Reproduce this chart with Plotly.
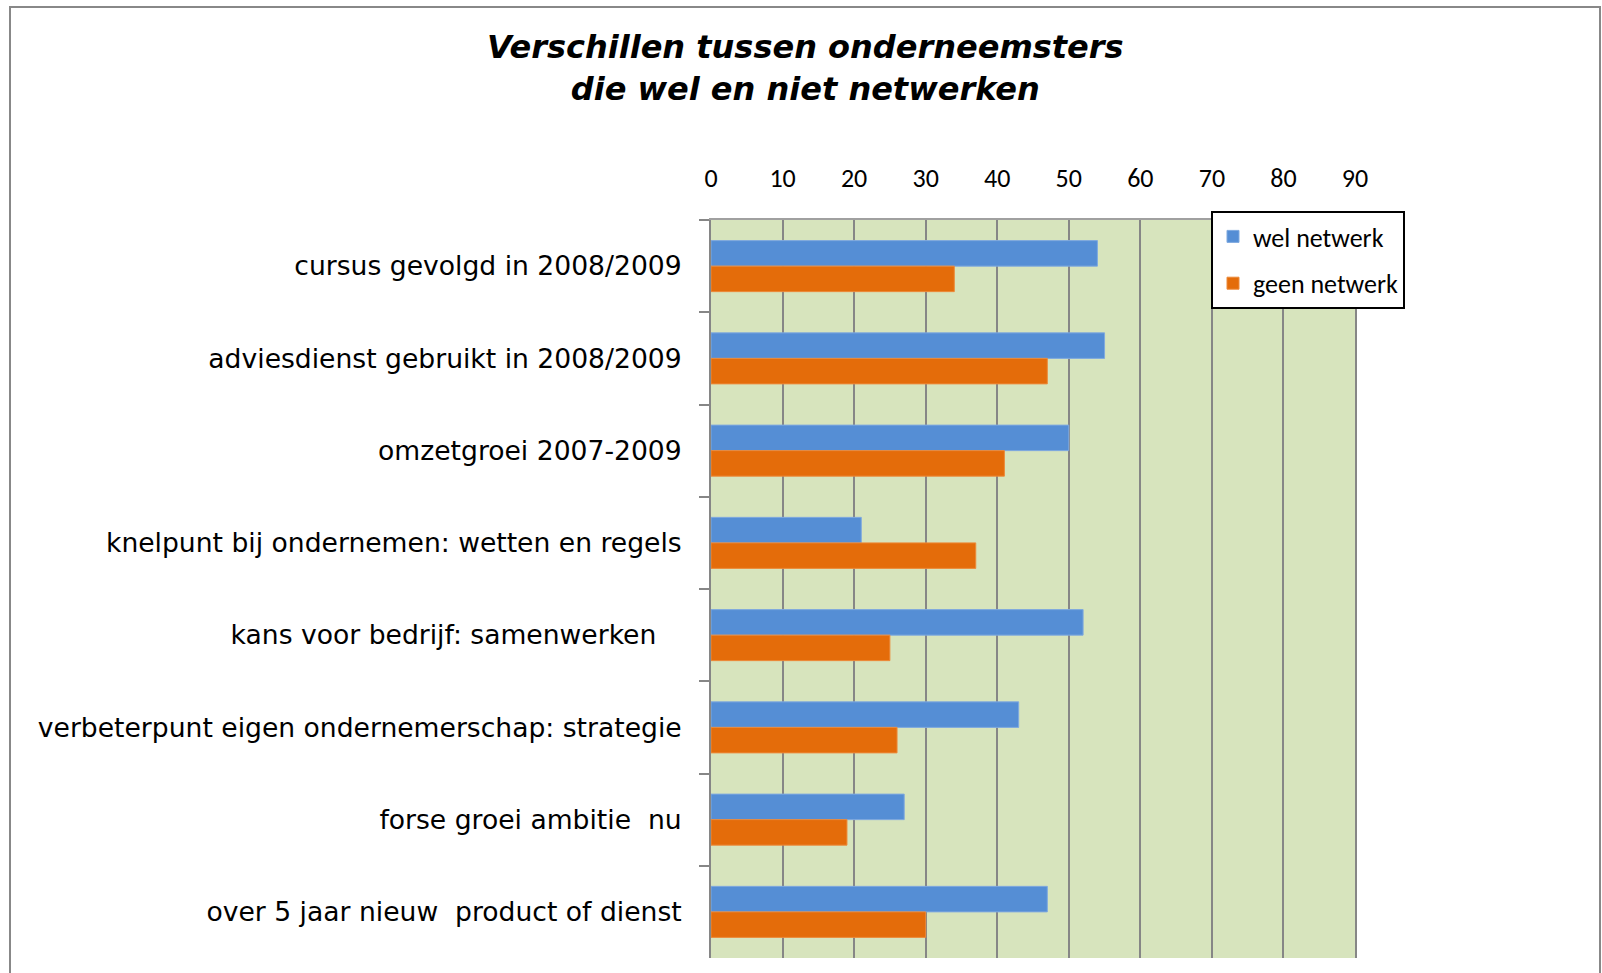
import plotly.graph_objects as go

categories = [
    "cursus gevolgd in 2008/2009",
    "adviesdienst gebruikt in 2008/2009",
    "omzetgroei 2007-2009",
    "knelpunt bij ondernemen: wetten en regels",
    "kans voor bedrijf: samenwerken\u00a0\u00a0\u00a0",
    "verbeterpunt eigen ondernemerschap: strategie",
    "forse groei ambitie\u00a0 nu",
    "over 5 jaar nieuw\u00a0 product of dienst",
]
wel_netwerk = [54, 55, 50, 21, 52, 43, 27, 47]
geen_netwerk = [34, 47, 41, 37, 25, 26, 19, 30]
x_ticks = [0, 10, 20, 30, 40, 50, 60, 70, 80, 90]

W, H = 1602, 973
# pixel positions of the plot area
L, R, T, B = 711, 1355, 220, 958

def px(x):
    return (x - L) / (R - L)

def py(y):
    return (B - y) / (B - T)

calibri = "Carlito, 'Liberation Sans Narrow', Lato, sans-serif"

fig = go.Figure()
fig.add_trace(go.Bar(
    y=categories, x=wel_netwerk, orientation="h", name="wel netwerk",
    marker=dict(color="#558ED5", line=dict(color="#7FA9DF", width=1)),
    legendgroup="a",
))
fig.add_trace(go.Bar(
    y=categories, x=geen_netwerk, orientation="h", name="geen netwerk",
    marker=dict(color="#E46C0A", line=dict(color="#EC8A3A", width=1)),
    legendgroup="b",
))

fig.update_layout(
    width=W, height=H,
    margin=dict(l=L, r=W - R, t=T, b=H - B, pad=0),
    paper_bgcolor="white",
    plot_bgcolor="#D7E4BD",
    barmode="group",
    bargap=0.447,
    bargroupgap=0,
    showlegend=True,
    legend=dict(
        x=px(1211), y=py(211), xanchor="left", yanchor="top",
        bgcolor="white", bordercolor="black", borderwidth=2,
        font=dict(family=calibri, size=26, color="black"),
        traceorder="grouped", tracegroupgap=10,
        itemwidth=30,
    ),
    xaxis=dict(
        side="top", range=[0, 90], tickvals=x_ticks,
        showgrid=True, gridcolor="#868686", gridwidth=2,
        showline=True, linecolor="#A0A0A0", linewidth=2,
        zeroline=False, ticks="", ticklabelstandoff=21,
        tickfont=dict(family=calibri, size=26, color="black"),
        fixedrange=True,
    ),
    yaxis=dict(
        autorange="reversed", type="category",
        showline=True, linecolor="#868686", linewidth=2, mirror=True,
        ticks="outside", tickson="boundaries", ticklen=10, tickcolor="#868686", tickwidth=2,
        ticklabelstandoff=22, showgrid=False,
        tickfont=dict(family="DejaVu Sans", size=26.6, color="black"),
        fixedrange=True,
    ),
    annotations=[dict(
        text="<b><i>Verschillen tussen onderneemsters<br>die wel en niet netwerken</i></b>",
        xref="paper", yref="paper", x=px(805), y=py(68.5), xanchor="center", yanchor="middle",
        showarrow=False, align="center",
        font=dict(family="DejaVu Sans", size=32, color="black"),
    )],
    shapes=[dict(
        type="rect", xref="paper", yref="paper",
        x0=px(10), x1=px(1600), y0=py(1000), y1=py(7),
        line=dict(color="#888888", width=2), fillcolor="rgba(0,0,0,0)", layer="below",
    )],
)

fig.write_html(
    "out.html",
    config={"displayModeBar": False},
    post_script="document.body.style.margin='0';document.body.style.overflow='hidden';",
)
